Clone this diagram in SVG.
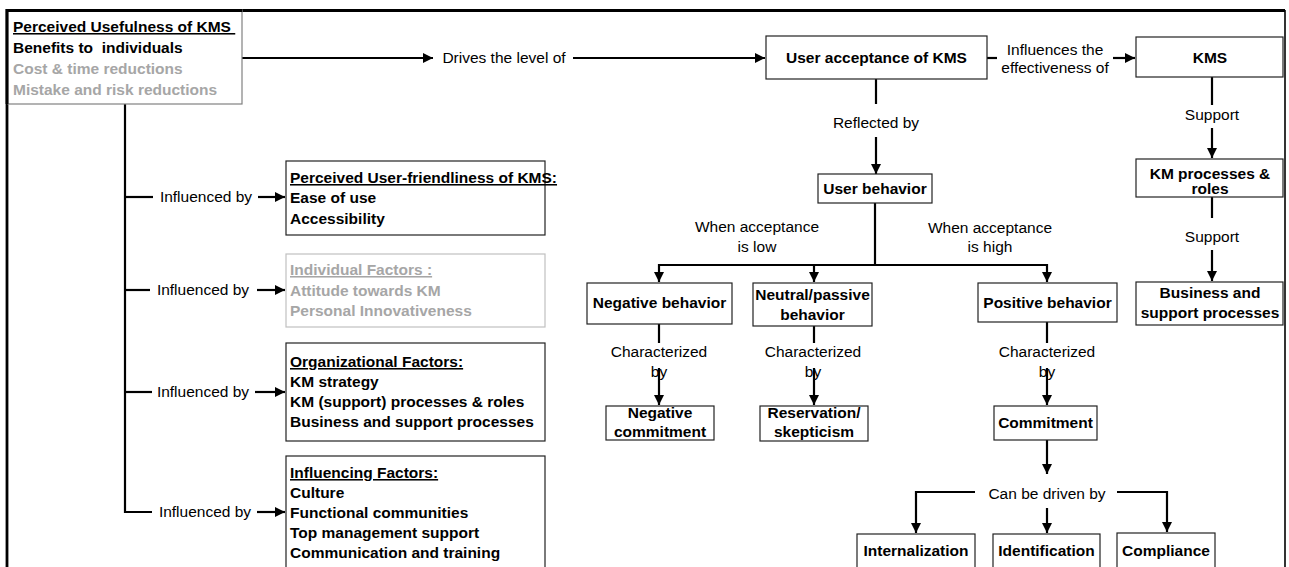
<svg xmlns="http://www.w3.org/2000/svg" width="1289" height="567" viewBox="0 0 1289 567">
<style>
text{font-family:"Liberation Sans",Arial,sans-serif;font-size:15.5px;fill:#000}
.b{font-weight:bold}
.g{fill:#a6a6a6}
.u{text-decoration:underline}
.c{text-anchor:middle}
.box{fill:#fff;stroke:#222;stroke-width:1.2}
.conn path{fill:none;stroke:#000;stroke-width:2.2}
.frame{fill:none;stroke:#000}
</style>
<defs>
<marker id="ah" viewBox="0 0 10 10" refX="10" refY="5" markerWidth="10" markerHeight="10" markerUnits="userSpaceOnUse" orient="auto">
<path d="M0,0 L10,5 L0,10 z" fill="#000"/>
</marker>
</defs>
<rect width="1289" height="567" fill="#fff"/>
<g id="frame">
<path class="frame" d="M7,567 V10.5 H1285" stroke-width="2.8"/>
<path class="frame" d="M1285,10 V567" stroke-width="1.6"/>
</g>
<g class="conn" id="connectors">
<path d="M242,58 H433" marker-end="url(#ah)"/>
<path d="M573,58 H765" marker-end="url(#ah)"/>
<path d="M125,104 V512 H152"/>
<path d="M125,197 H153"/>
<path d="M125,290 H150"/>
<path d="M125,392 H152"/>
<path d="M258,197 H285" marker-end="url(#ah)"/>
<path d="M257,290 H285" marker-end="url(#ah)"/>
<path d="M255,392 H285" marker-end="url(#ah)"/>
<path d="M257,512 H285" marker-end="url(#ah)"/>
<path d="M876,79 V104"/>
<path d="M876,137 V174" marker-end="url(#ah)"/>
<path d="M987,58 H997"/>
<path d="M1113,58 H1135" marker-end="url(#ah)"/>
<path d="M1212,77 V105"/>
<path d="M1212,128 V158" marker-end="url(#ah)"/>
<path d="M1212,197 V218"/>
<path d="M1212,250 V281" marker-end="url(#ah)"/>
<path d="M875,203 V265"/>
<path d="M659,265 H1047"/>
<path d="M659,264 V282" marker-end="url(#ah)"/>
<path d="M814,265 V282" marker-end="url(#ah)"/>
<path d="M1047,264 V282" marker-end="url(#ah)"/>
<path d="M659,324 V343"/>
<path d="M659,368 V405" marker-end="url(#ah)"/>
<path d="M814,326 V343"/>
<path d="M814,368 V405" marker-end="url(#ah)"/>
<path d="M1047,322 V343"/>
<path d="M1047,368 V405" marker-end="url(#ah)"/>
<path d="M1047,440 V474" marker-end="url(#ah)"/>
<path d="M975,492 H916 V533" marker-end="url(#ah)"/>
<path d="M1047,508 V533" marker-end="url(#ah)"/>
<path d="M1117,492 H1167 V532" marker-end="url(#ah)"/>
</g>
<g id="labels">
<text class="c" x="504" y="63">Drives the level of</text>
<text class="c" x="876" y="128">Reflected by</text>
<text class="c" x="1055" y="55">Influences the</text>
<text class="c" x="1055" y="73">effectiveness of</text>
<text class="c" x="1212" y="120">Support</text>
<text class="c" x="1212" y="242">Support</text>
<text class="c" x="757" y="232">When acceptance</text>
<text class="c" x="757" y="252">is low</text>
<text class="c" x="990" y="233">When acceptance</text>
<text class="c" x="990" y="252">is high</text>
<text class="c" x="659" y="357">Characterized</text>
<text class="c" x="659" y="377">by</text>
<text class="c" x="813" y="357">Characterized</text>
<text class="c" x="813" y="377">by</text>
<text class="c" x="1047" y="357">Characterized</text>
<text class="c" x="1047" y="377">by</text>
<text class="c" x="1047" y="499">Can be driven by</text>
<text class="c" x="206" y="202">Influenced by</text>
<text class="c" x="203" y="295">Influenced by</text>
<text class="c" x="203" y="397">Influenced by</text>
<text class="c" x="205" y="517">Influenced by</text>
</g>
<g id="usefulness">
<rect x="8" y="10" width="234" height="94" fill="#fff" stroke="#808080" stroke-width="1.2"/>
<path class="frame" d="M7,104 V10.5 H242" stroke-width="2.8"/>
<text class="b u" x="13" y="32" xml:space="preserve">Perceived Usefulness of KMS </text>
<text class="b" x="13" y="53" xml:space="preserve">Benefits to  individuals</text>
<text class="b g" x="13" y="74">Cost &amp; time reductions</text>
<text class="b g" x="13" y="94.5">Mistake and risk reductions</text>
</g>
<g id="user-friendliness">
<rect class="box" x="286" y="161" width="259" height="74"/>
<text class="b u" x="290" y="183">Perceived User-friendliness of KMS:</text>
<text class="b" x="290" y="203">Ease of use</text>
<text class="b" x="290" y="224">Accessibility</text>
</g>
<g id="individual-factors">
<rect x="286" y="254" width="259" height="73" fill="#fff" stroke="#c0c0c0" stroke-width="1.2"/>
<text class="b u g" x="290" y="275">Individual Factors :</text>
<text class="b g" x="290" y="296">Attitude towards KM</text>
<text class="b g" x="290" y="316">Personal Innovativeness</text>
</g>
<g id="organizational-factors">
<rect class="box" x="286" y="343" width="259" height="98"/>
<text class="b u" x="290" y="367">Organizational Factors:</text>
<text class="b" x="290" y="387">KM strategy</text>
<text class="b" x="290" y="407">KM (support) processes &amp; roles</text>
<text class="b" x="290" y="427">Business and support processes</text>
</g>
<g id="influencing-factors">
<rect class="box" x="286" y="456" width="259" height="120"/>
<text class="b u" x="290" y="478">Influencing Factors:</text>
<text class="b" x="290" y="498">Culture</text>
<text class="b" x="290" y="518">Functional communities</text>
<text class="b" x="290" y="538">Top management support</text>
<text class="b" x="290" y="558">Communication and training</text>
</g>
<g id="user-acceptance">
<rect class="box" x="766" y="36" width="221" height="43"/>
<text class="b c" x="876.5" y="63">User acceptance of KMS</text>
</g>
<g id="kms">
<rect class="box" x="1136" y="37" width="147" height="40"/>
<text class="b c" x="1210" y="63">KMS</text>
</g>
<g id="km-processes">
<rect class="box" x="1136" y="159" width="147" height="38"/>
<text class="b c" x="1210" y="179">KM processes &amp;</text>
<text class="b c" x="1210" y="194">roles</text>
</g>
<g id="business-processes">
<rect class="box" x="1136" y="282" width="147" height="43"/>
<text class="b c" x="1210" y="298">Business and</text>
<text class="b c" x="1210" y="318">support processes</text>
</g>
<g id="user-behavior">
<rect class="box" x="818" y="174" width="114" height="29"/>
<text class="b c" x="875" y="194">User behavior</text>
</g>
<g id="negative-behavior">
<rect class="box" x="587" y="283" width="145" height="41"/>
<text class="b c" x="659.5" y="308">Negative behavior</text>
</g>
<g id="neutral-behavior">
<rect class="box" x="753" y="283" width="119" height="43"/>
<text class="b c" x="812.5" y="300">Neutral/passive</text>
<text class="b c" x="812.5" y="320">behavior</text>
</g>
<g id="positive-behavior">
<rect class="box" x="978" y="283" width="139" height="39"/>
<text class="b c" x="1047.5" y="308">Positive behavior</text>
</g>
<g id="negative-commitment">
<rect class="box" x="606" y="406" width="108" height="34"/>
<text class="b c" x="660" y="418">Negative</text>
<text class="b c" x="660" y="437">commitment</text>
</g>
<g id="reservation">
<rect class="box" x="760" y="406" width="108" height="35"/>
<text class="b c" x="814" y="418">Reservation/</text>
<text class="b c" x="814" y="437">skepticism</text>
</g>
<g id="commitment">
<rect class="box" x="994" y="406" width="103" height="34"/>
<text class="b c" x="1045.5" y="428">Commitment</text>
</g>
<g id="internalization">
<rect class="box" x="857" y="534" width="118" height="42"/>
<text class="b c" x="916" y="556">Internalization</text>
</g>
<g id="identification">
<rect class="box" x="993" y="534" width="107" height="42"/>
<text class="b c" x="1046.5" y="556">Identification</text>
</g>
<g id="compliance">
<rect class="box" x="1117" y="533" width="98" height="43"/>
<text class="b c" x="1166" y="556">Compliance</text>
</g>
</svg>
